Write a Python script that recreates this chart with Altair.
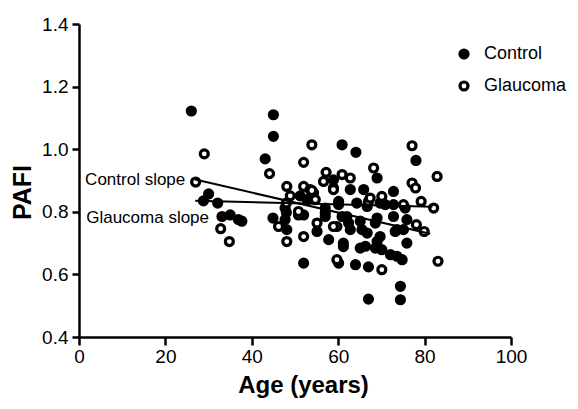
import altair as alt
import pandas as pd

# ---- data ----
control_age = [26.0, 30.0, 28.8, 32.1, 33.1, 35.0, 36.9, 37.7, 45.0, 45.0,
               43.1, 51.2, 44.9, 47.7, 48.1, 48.0, 52.0, 55.1, 58.9, 47.7,
               52.8, 57.0, 60.9, 64.1, 78.0, 69.0, 62.8, 65.9, 72.8, 60.1,
               70.9, 75.5, 75.9, 74.8, 74.4, 74.4, 75.1, 72.1, 73.6, 67.0,
               64.0, 60.1, 67.0, 70.1, 69.0, 66.3, 61.2, 62.4, 65.5, 68.6,
               60.9, 75.9, 73.2, 57.8, 57.0, 64.3, 66.7, 69.7, 65.1, 69.0,
               72.8, 62.8, 65.1, 61.2, 68.6, 60.1, 69.7, 72.8, 54.3, 58.9,
               62.0, 66.7, 73.6, 52.0, 57.0]
control_pafi = [1.122, 0.857, 0.835, 0.828, 0.785, 0.790, 0.775, 0.770, 1.110, 1.041,
                0.969, 0.851, 0.780, 0.775, 0.743, 0.798, 0.636, 0.737, 0.902, 0.812,
                0.839, 0.812, 1.014, 0.990, 0.964, 0.908, 0.871, 0.871, 0.865, 0.833,
                0.823, 0.812, 0.700, 0.647, 0.562, 0.519, 0.743, 0.663, 0.658, 0.624,
                0.631, 0.636, 0.521, 0.679, 0.705, 0.690, 0.700, 0.764, 0.743, 0.764,
                0.785, 0.775, 0.737, 0.711, 0.796, 0.828, 0.817, 0.721, 0.770, 0.780,
                0.785, 0.743, 0.684, 0.689, 0.684, 0.823, 0.828, 0.823, 0.860, 0.876,
                0.785, 0.732, 0.743, 0.790, 0.785]
glaucoma_age = [29.0, 27.0, 32.8, 34.8, 44.1, 53.9, 52.0, 48.1, 48.9, 52.0,
                53.5, 46.2, 48.1, 48.0, 50.8, 52.0, 55.1, 57.2, 53.9, 56.6,
                58.9, 50.8, 54.7, 77.1, 68.2, 60.9, 62.8, 77.1, 77.9, 82.9,
                67.0, 70.1, 79.2, 82.1, 75.1, 78.1, 79.9, 83.1, 70.1, 59.7,
                59.7, 67.4, 58.9]
glaucoma_pafi = [0.985, 0.895, 0.746, 0.705, 0.922, 1.014, 0.958, 0.881, 0.851, 0.881,
                 0.871, 0.753, 0.705, 0.828, 0.790, 0.721, 0.764, 0.926, 0.868, 0.897,
                 0.871, 0.801, 0.839, 1.011, 0.940, 0.919, 0.908, 0.892, 0.876, 0.913,
                 0.833, 0.849, 0.833, 0.812, 0.823, 0.759, 0.737, 0.642, 0.615, 0.647,
                 0.753, 0.844, 0.753]

slope_group = ["Control", "Control", "Glaucoma", "Glaucoma"]
slope_age = [26.9, 81.3, 26.9, 81.8]
slope_pafi = [0.903, 0.730, 0.835, 0.816]

label_text = ["Control slope", "Glaucoma slope"]
label_age = [24.6, 30.1]
label_pafi = [0.903, 0.781]

groups = ["Control", "Glaucoma"]
x_ticks = [0, 20, 40, 60, 80, 100]
y_ticks = [0.4, 0.6, 0.8, 1.0, 1.2, 1.4]

FONT = "Liberation Sans"

points = pd.DataFrame({
    "Age": control_age + glaucoma_age,
    "PAFI": control_pafi + glaucoma_pafi,
    "Group": ["Control"] * len(control_age) + ["Glaucoma"] * len(glaucoma_age),
})
points["order"] = range(len(points))
slopes = pd.DataFrame({"Age": slope_age, "PAFI": slope_pafi, "Group": slope_group})
labels = pd.DataFrame({"Age": label_age, "PAFI": label_pafi, "text": label_text})

xs = alt.Scale(domain=[0, 100], nice=False, zero=False)
ys = alt.Scale(domain=[0.4, 1.4], nice=False, zero=False)

x_axis = alt.Axis(values=x_ticks, title="Age (years)", grid=False, labelFlush=False,
                  labelFont=FONT, labelFontSize=19, labelColor="black",
                  titleFont=FONT, titleFontSize=24, titleFontWeight="bold", titleColor="black",
                  domainColor="black", domainWidth=2.5, tickColor="black", tickWidth=2.5,
                  tickSize=8, labelPadding=2, titlePadding=7, titleX=224)
y_axis = alt.Axis(values=y_ticks, format=".1f", title="PAFI", grid=False, labelFlush=False,
                  labelFont=FONT, labelFontSize=19, labelColor="black",
                  titleFont=FONT, titleFontSize=25, titleFontWeight="bold", titleColor="black",
                  domainColor="black", domainWidth=2.5, tickColor="black", tickWidth=2.5,
                  tickSize=7, labelPadding=4, titleX=-44, titleY=168)

pts = alt.Chart(points).mark_point(
    shape="circle", filled=False, size=64, stroke="black", strokeWidth=3.2, opacity=1
).encode(
    x=alt.X("Age:Q", scale=xs, axis=x_axis),
    y=alt.Y("PAFI:Q", scale=ys, axis=y_axis),
    fill=alt.Fill("Group:N", scale=alt.Scale(domain=groups, range=["black", "white"]),
                  legend=alt.Legend(title=None, orient="none", legendX=376, legendY=21,
                                    labelFont=FONT, labelFontSize=18, labelColor="black",
                                    symbolType="circle", symbolSize=64,
                                    symbolStrokeColor="black", symbolStrokeWidth=3.2,
                                    rowPadding=10, labelOffset=11, padding=0)),
    order=alt.Order("order:Q"),
)

lines = alt.Chart(slopes).mark_line(color="black", strokeWidth=2).encode(
    x=alt.X("Age:Q", scale=xs),
    y=alt.Y("PAFI:Q", scale=ys),
    detail="Group:N",
)

txt = alt.Chart(labels).mark_text(
    align="right", baseline="middle", font=FONT, fontSize=17, color="black"
).encode(
    x=alt.X("Age:Q", scale=xs),
    y=alt.Y("PAFI:Q", scale=ys),
    text="text:N",
)

chart = alt.layer(pts, lines, txt).properties(
    width=432, height=313,
    autosize=alt.AutoSizeParams(type="none"),
    padding={"left": 71, "top": 16, "right": 58, "bottom": 64},
).configure_view(stroke=None)

chart.save("out.html", embed_options={"renderer": "svg", "actions": False})
